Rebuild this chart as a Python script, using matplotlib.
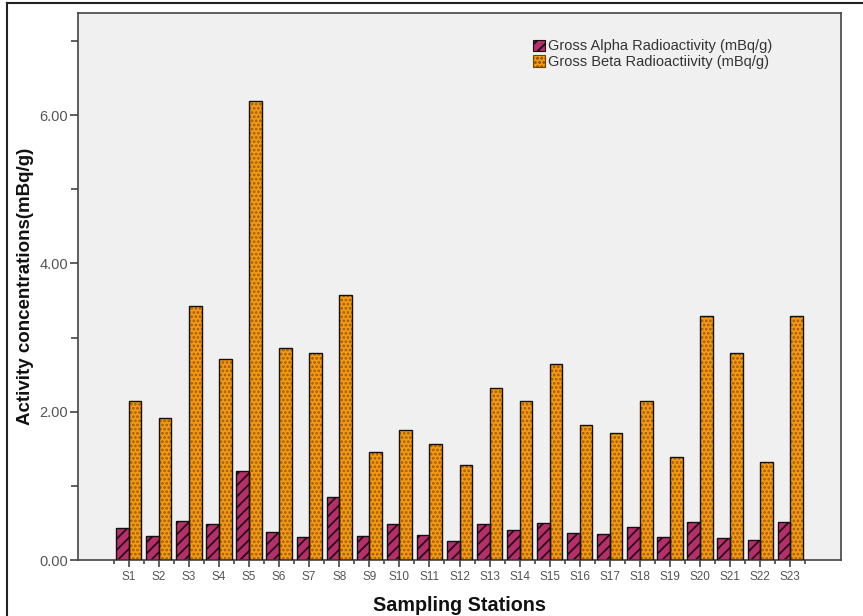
import matplotlib
matplotlib.use("Agg")
import matplotlib.pyplot as plt
import numpy as np
from matplotlib.lines import Line2D
from matplotlib.patches import Patch

stations = [f"S{i}" for i in range(1, 24)]
alpha = [0.43, 0.33, 0.53, 0.48, 1.20, 0.38, 0.31, 0.85, 0.32, 0.48, 0.34, 0.25,
         0.49, 0.40, 0.50, 0.36, 0.35, 0.44, 0.31, 0.51, 0.30, 0.27, 0.51]
beta = [2.14, 1.92, 3.42, 2.71, 6.19, 2.86, 2.79, 3.57, 1.46, 1.75, 1.57, 1.28,
        2.32, 2.14, 2.64, 1.82, 1.71, 2.14, 1.39, 3.29, 2.79, 1.32, 3.29]
alpha_label = "Gross Alpha Radioactivity (mBq/g)"
beta_label = "Gross Beta Radioactiivity (mBq/g)"
y_major = [0, 2, 4, 6]
y_minor = [1, 3, 5, 7]

plt.rcParams['font.family'] = ['Liberation Sans', 'DejaVu Sans']
plt.rcParams['hatch.linewidth'] = 1.3

fig = plt.figure(figsize=(8.63, 6.16), dpi=100)
ax = fig.add_axes([78/863, 1-560/616, (841-78)/863, (560-12.7)/616])
ax.set_facecolor('#f0f0f0')

x = np.arange(len(stations))
w = 0.42
a_col = '#b5306a'
b_col = '#f39a12'

ax.bar(x - w/2, alpha, w, color=a_col, hatch='///', edgecolor='#2a0a18', linewidth=0, zorder=2)
ax.bar(x - w/2, alpha, w, fill=False, edgecolor='#111111', linewidth=1.0, zorder=3)
ax.bar(x + w/2, beta, w, color=b_col, hatch='....', edgecolor='#a05a00', linewidth=0, zorder=2)
ax.bar(x + w/2, beta, w, fill=False, edgecolor='#111111', linewidth=1.0, zorder=3)

ax.set_xlim(-1.69, len(stations) - 1 + 1.69)
ax.set_ylim(0, 7.38)

ax.set_yticks(y_major)
ax.set_yticklabels([f"{v:.2f}" for v in y_major])
ax.set_yticks(y_minor, minor=True)
ax.set_xticks(x)
ax.set_xticklabels(stations)
ax.set_xticks(np.arange(-0.5, len(stations) + 0.5, 1), minor=True)

ax.tick_params(axis='y', which='major', length=6, width=1.2, labelsize=10.5, labelcolor='#555555', color='#444444', pad=1)
ax.tick_params(axis='y', which='minor', length=5, width=1.2, color='#444444')
ax.tick_params(axis='x', which='major', length=5, width=1.2, labelsize=8.5, labelcolor='#555555', color='#444444', pad=3)
ax.tick_params(axis='x', which='minor', length=3, width=1.2, color='#444444')

for s in ax.spines.values():
    s.set_color('#444444')
    s.set_linewidth(1.2)

ax.set_xlabel("Sampling Stations", fontsize=14.2, fontweight='bold', color='#111111', labelpad=9)
ax.set_ylabel("Activity concentrations(mBq/g)", fontsize=13.5, fontweight='bold', color='#111111', labelpad=4)

handles = [Patch(facecolor=a_col, hatch='///', edgecolor='#111111', linewidth=0.8),
           Patch(facecolor=b_col, hatch='....', edgecolor='#7a4400', linewidth=0.8)]
leg = ax.legend(handles, [alpha_label, beta_label], loc='upper left',
                bbox_to_anchor=(0.589, 0.962), frameon=False, fontsize=10.5,
                handlelength=0.8, handleheight=0.8, handletextpad=0.2,
                labelspacing=0.12, borderaxespad=0)
for t in leg.get_texts():
    t.set_color('#333333')

# figure border (top and left as in reference)
fig.add_artist(Line2D([7/863, 7/863], [0, 1-3/616], transform=fig.transFigure, color='#222222', lw=1.5))
fig.add_artist(Line2D([7/863, 1], [1-3/616, 1-3/616], transform=fig.transFigure, color='#222222', lw=1.5))

fig.savefig("out.png", dpi=100)
